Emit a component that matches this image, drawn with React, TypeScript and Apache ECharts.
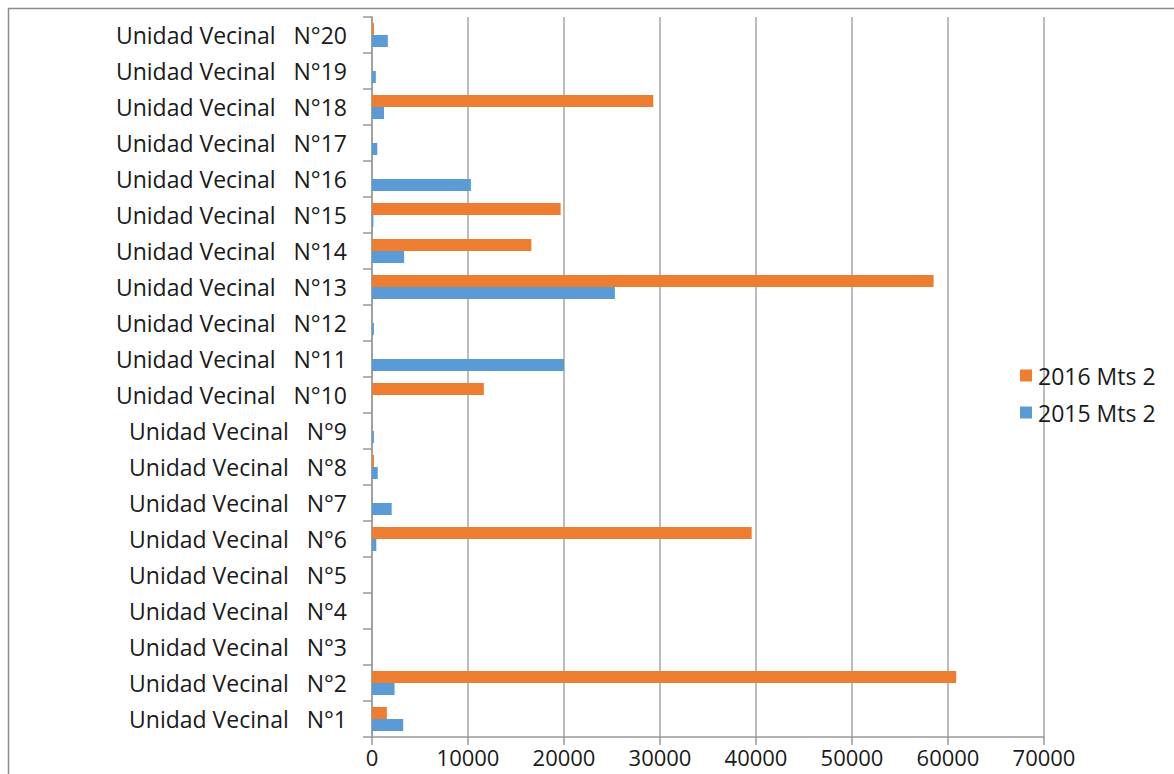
import React, { useEffect, useRef } from "react";
import * as echarts from "echarts";

const categories = [
  "Unidad Vecinal   N°1",
  "Unidad Vecinal   N°2",
  "Unidad Vecinal   N°3",
  "Unidad Vecinal   N°4",
  "Unidad Vecinal   N°5",
  "Unidad Vecinal   N°6",
  "Unidad Vecinal   N°7",
  "Unidad Vecinal   N°8",
  "Unidad Vecinal   N°9",
  "Unidad Vecinal   N°10",
  "Unidad Vecinal   N°11",
  "Unidad Vecinal   N°12",
  "Unidad Vecinal   N°13",
  "Unidad Vecinal   N°14",
  "Unidad Vecinal   N°15",
  "Unidad Vecinal   N°16",
  "Unidad Vecinal   N°17",
  "Unidad Vecinal   N°18",
  "Unidad Vecinal   N°19",
  "Unidad Vecinal   N°20",
];

const values2016 = [1550, 60850, 0, 0, 0, 39550, 0, 200, 0, 11650, 0, 0, 58500, 16600, 19650, 0, 0, 29300, 0, 200];
const values2015 = [3250, 2350, 0, 0, 0, 450, 2050, 600, 200, 0, 20000, 200, 25300, 3350, 150, 10300, 550, 1250, 400, 1650];

const name2016 = "2016 Mts 2";
const name2015 = "2015 Mts 2";

const FONT = "Open Sans";
const TEXT = "#1a1a1a";
const FS = 23;

export default function App() {
  const ref = useRef<HTMLDivElement>(null);
  useEffect(() => {
    if (!ref.current) return;
    const chart = echarts.init(ref.current, undefined, { renderer: "svg" });
    chart.setOption({
      animation: false,
      backgroundColor: "#ffffff",
      textStyle: { fontFamily: FONT },
      graphic: [
        {
          type: "rect",
          shape: { x: 8.5, y: 8.5, width: 1300, height: 900 },
          style: { fill: "none", stroke: "#8c8c8c", lineWidth: 1.5 },
          silent: true,
        },
      ],
      grid: { left: 372, top: 17, width: 672, height: 720, containLabel: false },
      legend: {
        orient: "vertical",
        left: 1015,
        top: 359,
        itemWidth: 12,
        itemHeight: 12,
        itemGap: 14,
        icon: "rect",
        data: [name2016, name2015],
        textStyle: { fontFamily: FONT, fontSize: FS, color: TEXT, padding: [0, 0, 0, 1] },
      },
      xAxis: {
        type: "value",
        min: 0,
        max: 70000,
        interval: 10000,
        axisLine: { show: true, lineStyle: { color: "#999999", width: 1.5 } },
        axisTick: { show: true, length: 8, lineStyle: { color: "#999999", width: 1.5 } },
        axisLabel: {
          fontFamily: FONT,
          fontSize: 22,
          color: TEXT,
          margin: 9,
          formatter: (v: number) => String(v),
        },
        splitLine: { show: true, lineStyle: { color: "#a6a6a6", width: 1.5 } },
      },
      yAxis: {
        type: "category",
        data: categories,
        axisLine: { show: true, lineStyle: { color: "#999999", width: 1.5 } },
        axisTick: { show: true, length: 9, lineStyle: { color: "#999999", width: 1.5 } },
        axisLabel: { fontFamily: FONT, fontSize: FS, color: TEXT, margin: 25 },
        splitLine: { show: false },
      },
      series: [
        {
          name: name2016,
          type: "bar",
          data: values2016,
          barWidth: 12,
          barGap: "0%",
          itemStyle: { color: "#ed7d31" },
        },
        {
          name: name2015,
          type: "bar",
          data: values2015,
          barWidth: 12,
          barGap: "0%",
          itemStyle: { color: "#5b9bd5" },
        },
      ],
    });
    return () => chart.dispose();
  }, []);
  return (
    <div
      ref={ref}
      style={{ position: "fixed", left: 0, top: 0, width: 1174, height: 774, background: "#fff" }}
    />
  );
}
